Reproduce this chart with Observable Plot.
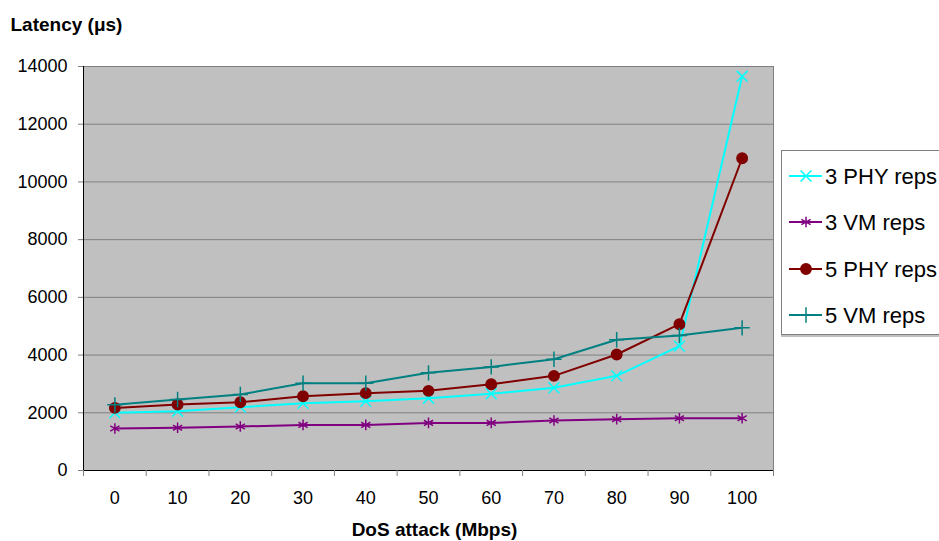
<!DOCTYPE html>
<html>
<head>
<meta charset="utf-8">
<script src="https://cdn.jsdelivr.net/npm/d3@7"></script>
<script src="https://cdn.jsdelivr.net/npm/@observablehq/plot@0.6"></script>
<style>
  html, body { margin: 0; padding: 0; background: #fff; }
  #wrap { position: relative; width: 939px; height: 541px; overflow: hidden; font-family: "Liberation Sans", Arial, sans-serif; }
  #legend { position: absolute; left: 781px; top: 150px; width: 170px; height: 185px; border: 1px solid #808080; box-sizing: border-box; background: #fff; box-shadow: 0 2px 0 #c0c0c0; }
</style>
</head>
<body>
<div id="wrap"><div id="chart"></div><div id="legend"></div></div>
<script>
const attack = [0, 10, 20, 30, 40, 50, 60, 70, 80, 90, 100];
const phy3 = [2000, 2055, 2195, 2330, 2400, 2505, 2660, 2865, 3280, 4310, 13660];
const vm3  = [1455, 1480, 1525, 1580, 1580, 1650, 1650, 1730, 1780, 1810, 1810];
const phy5 = [2170, 2285, 2365, 2575, 2680, 2760, 2990, 3280, 4020, 5070, 10820];
const vm5  = [2275, 2460, 2635, 3025, 3025, 3385, 3590, 3855, 4530, 4680, 4945];
const seriesNames = ["3 PHY reps", "3 VM reps", "5 PHY reps", "5 VM reps"];
const yTicks = [0, 2000, 4000, 6000, 8000, 10000, 12000, 14000];

const seriesValues = [phy3, vm3, phy5, vm5];
const colors = ["#00ffff", "#800080", "#800000", "#008080"];
const symbols = ["times", "asterisk", "circle", "plus"];
const symR = [5, 5, 5.2, 5];

const data = [];
seriesNames.forEach((s, i) => attack.forEach((a, j) => data.push({series: s, x: a, y: seriesValues[i][j]})));
const boundaries = attack.map(a => a - 5).concat([105]);

const marks = [
  Plot.frame({fill: "#c0c0c0", stroke: "#808080"}),
  Plot.gridY(yTicks.filter(t => t > 0), {stroke: "#808080", strokeOpacity: 1}),
  Plot.ruleX([-5], {stroke: "#000"}),
  Plot.ruleY([0], {stroke: "#000"}),
  Plot.axisY(yTicks, {tickSize: 5, tickPadding: 11, stroke: "#808080", fill: "#000", fontSize: 18, tickFormat: d3.format("d"), label: null}),
  Plot.axisX(boundaries, {tickSize: 6, stroke: "#808080", tickFormat: () => "", label: null}),
  Plot.axisX(attack, {tickSize: 0, tickPadding: 21, fontSize: 18, fill: "#000", label: null}),
  Plot.text(["Latency (μs)"], {frameAnchor: "top-left", dx: -73, dy: -42, lineAnchor: "middle", textAnchor: "start", fontWeight: "bold", fontSize: 19, fill: "#000"}),
  Plot.text(["DoS attack (Mbps)"], {frameAnchor: "bottom", dx: 6, dy: 59, lineAnchor: "middle", fontWeight: "bold", fontSize: 19, fill: "#000"})
];
seriesNames.forEach((s, i) => {
  const d = data.filter(r => r.series === s);
  marks.push(Plot.line(d, {x: "x", y: "y", stroke: colors[i], strokeWidth: 2}));
});
seriesNames.forEach((s, i) => {
  const d = data.filter(r => r.series === s);
  if (symbols[i] === "circle") {
    marks.push(Plot.dot(d, {x: "x", y: "y", symbol: "circle", r: symR[i], fill: colors[i], stroke: colors[i]}));
  } else {
    marks.push(Plot.dot(d, {x: "x", y: "y", symbol: symbols[i], r: symR[i], stroke: colors[i], strokeWidth: 1.5}));
  }
});

const chart = Plot.plot({
  width: 939,
  height: 541,
  marginLeft: 83,
  marginRight: 166,
  marginTop: 66,
  marginBottom: 71,
  style: {fontFamily: "'Liberation Sans', Arial, sans-serif", background: "#fff", color: "#000"},
  x: {type: "linear", domain: [-5, 105]},
  y: {domain: [0, 14000]},
  marks
});
document.getElementById("chart").appendChild(chart);

// legend
const lg = d3.select("#legend").append("svg").attr("width", 170).attr("height", 185)
  .style("font-family", "'Liberation Sans', Arial, sans-serif");
const ys = [25, 71, 118, 164];
seriesNames.forEach((s, i) => {
  const g = lg.append("g").attr("transform", `translate(0,${ys[i]})`);
  g.append("line").attr("x1", 7).attr("x2", 40).attr("stroke", colors[i]).attr("stroke-width", 2);
  const symMap = {times: d3.symbolTimes, asterisk: d3.symbolAsterisk, circle: d3.symbolCircle, plus: d3.symbolPlus};
  const size = Math.PI * symR[i] * symR[i];
  g.append("path").attr("transform", "translate(24,0)")
    .attr("d", d3.symbol(symMap[symbols[i]], size)())
    .attr("fill", symbols[i] === "circle" ? colors[i] : "none")
    .attr("stroke", colors[i]).attr("stroke-width", 1.5);
  g.append("text").attr("x", 43).attr("dy", "0.35em").attr("font-size", 22).attr("fill", "#000").text(s);
});
</script>
</body>
</html>
